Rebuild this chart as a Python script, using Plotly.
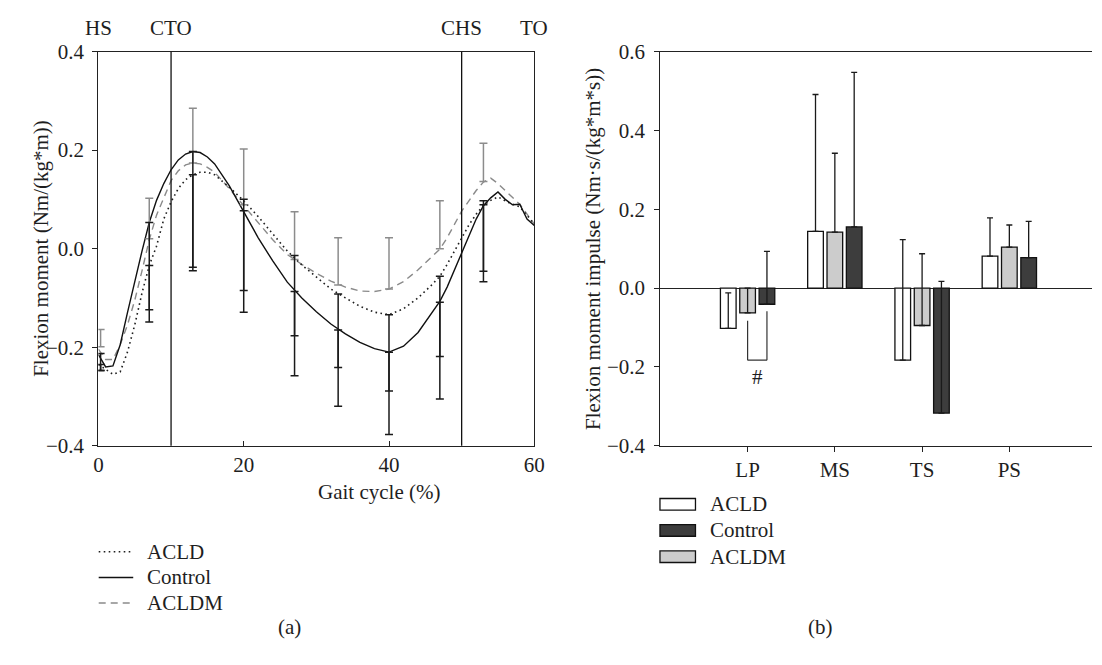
import plotly.graph_objects as go

# ---------------- data: panel (a) ----------------
gait_x = [0, 1, 2, 3, 4, 5, 6, 7, 8, 9, 10, 11, 12, 13, 14, 15, 16, 18, 20, 22, 24, 26, 28,
          30, 32, 34, 36, 38, 40, 42, 44, 46, 47, 48, 49, 50, 51, 52, 53, 54, 55, 56, 57, 58, 59, 60]
acld_curve = [-0.235, -0.245, -0.255, -0.250, -0.210, -0.155, -0.090, -0.034, 0.005, 0.060, 0.095,
              0.122, 0.140, 0.150, 0.155, 0.155, 0.150, 0.125, 0.097, 0.065, 0.030, -0.005, -0.033,
              -0.058, -0.082, -0.100, -0.117, -0.129, -0.134, -0.122, -0.100, -0.072, -0.056, -0.032,
              -0.005, 0.024, 0.048, 0.070, 0.088, 0.098, 0.105, 0.097, 0.090, 0.085, 0.068, 0.050]
control_curve = [-0.215, -0.240, -0.238, -0.195, -0.130, -0.065, -0.005, 0.053, 0.098, 0.132, 0.160,
                 0.180, 0.192, 0.197, 0.195, 0.186, 0.172, 0.128, 0.076, 0.022, -0.025, -0.068, -0.100,
                 -0.128, -0.153, -0.173, -0.190, -0.203, -0.210, -0.198, -0.170, -0.128, -0.107, -0.078,
                 -0.043, -0.009, 0.028, 0.060, 0.087, 0.103, 0.115, 0.100, 0.089, 0.090, 0.060, 0.047]
acldm_curve = [-0.204, -0.225, -0.225, -0.195, -0.155, -0.105, -0.045, 0.018, 0.068, 0.105, 0.138,
               0.158, 0.170, 0.174, 0.172, 0.165, 0.155, 0.122, 0.087, 0.052, 0.018, -0.012, -0.032,
               -0.050, -0.066, -0.078, -0.086, -0.087, -0.082, -0.067, -0.043, -0.015, -0.001, 0.022,
               0.048, 0.076, 0.097, 0.118, 0.135, 0.143, 0.132, 0.118, 0.105, 0.090, 0.070, 0.050]

err_x = [0.3, 7, 13, 20, 27, 33, 40, 47, 53]
acld_err_mean = [-0.235, -0.034, 0.150, 0.100, -0.014, -0.092, -0.134, -0.056, 0.089]
acld_err_sd = [0.012, 0.115, 0.188, 0.185, 0.163, 0.149, 0.155, 0.163, 0.135]
control_err_mean = [-0.213, 0.053, 0.197, 0.077, -0.087, -0.165, -0.210, -0.109, 0.097]
control_err_sd = [0.035, 0.177, 0.242, 0.206, 0.171, 0.155, 0.167, 0.196, 0.164]
acldm_err_mean = [-0.199, 0.020, 0.174, 0.089, -0.022, -0.074, -0.082, 0.000, 0.136]
acldm_err_sd = [0.035, 0.082, 0.111, 0.113, 0.097, 0.096, 0.104, 0.097, 0.078]

event_x = [0, 10, 50, 60]
event_labels = ["HS", "CTO", "CHS", "TO"]
event_lines = [10, 50]

# ---------------- data: panel (b) ----------------
phases = ["LP", "MS", "TS", "PS"]
acld_impulse = [-0.102, 0.144, -0.183, 0.081]
acld_impulse_sd = [0.090, 0.347, 0.306, 0.097]
acldm_impulse = [-0.063, 0.142, -0.095, 0.104]
acldm_impulse_sd = [0.063, 0.200, 0.182, 0.056]
control_impulse = [-0.041, 0.155, -0.317, 0.077]
control_impulse_sd = [0.134, 0.392, 0.334, 0.092]

bracket_phase = "LP"
bracket_left_top = -0.083
bracket_right_top = -0.059
bracket_bottom = -0.183
bracket_label = "#"
bracket_label_y = -0.225

series_names = ["ACLD", "Control", "ACLDM"]

# ---------------- style ----------------
W, H = 1102, 665
FONT = "Liberation Serif, Times New Roman, serif"
FS = 21
INK = "#1e1e1e"
GRAY_LINE = "#8a8a8a"
BAR_FILL = {"ACLD": "#ffffff", "ACLDM": "#cccccc", "Control": "#3d3d3d"}
BARGAP = 0.335
slot = (1 - BARGAP) / 3


def px(xp):
    return xp / W


def py(yp):
    return 1 - yp / H


fig = go.Figure()

# curves
fig.add_trace(go.Scatter(x=gait_x, y=acldm_curve, mode="lines", name="ACLDM",
                         line=dict(color=GRAY_LINE, width=1.4, dash="7px,5px"),
                         xaxis="x", yaxis="y", showlegend=False))
fig.add_trace(go.Scatter(x=gait_x, y=acld_curve, mode="lines", name="ACLD",
                         line=dict(color=INK, width=1.6, dash="1.6px,3.4px"),
                         xaxis="x", yaxis="y", showlegend=False))
fig.add_trace(go.Scatter(x=gait_x, y=control_curve, mode="lines", name="Control",
                         line=dict(color="#111111", width=1.4),
                         xaxis="x", yaxis="y", showlegend=False))

# error bars of panel (a)
zeros = [0] * len(err_x)
fig.add_trace(go.Scatter(x=err_x, y=acldm_err_mean, mode="markers",
                         marker=dict(size=1, color="rgba(0,0,0,0)"),
                         error_y=dict(type="data", symmetric=False, array=acldm_err_sd,
                                      arrayminus=zeros, color="#8c8c8c", thickness=1.5, width=4),
                         xaxis="x", yaxis="y", showlegend=False, hoverinfo="skip"))
fig.add_trace(go.Scatter(x=err_x, y=acld_err_mean, mode="markers",
                         marker=dict(size=1, color="rgba(0,0,0,0)"),
                         error_y=dict(type="data", symmetric=False, array=zeros,
                                      arrayminus=acld_err_sd, color="#1a1a1a", thickness=1.5, width=4),
                         xaxis="x", yaxis="y", showlegend=False, hoverinfo="skip"))
fig.add_trace(go.Scatter(x=err_x, y=control_err_mean, mode="markers",
                         marker=dict(size=1, color="rgba(0,0,0,0)"),
                         error_y=dict(type="data", symmetric=False, array=zeros,
                                      arrayminus=control_err_sd, color="#1a1a1a", thickness=1.5, width=4),
                         xaxis="x", yaxis="y", showlegend=False, hoverinfo="skip"))

# bars of panel (b)
cat_pos = list(range(1, len(phases) + 1))
bar_series = [("ACLD", acld_impulse, acld_impulse_sd),
              ("ACLDM", acldm_impulse, acldm_impulse_sd),
              ("Control", control_impulse, control_impulse_sd)]
for name, vals, sds in bar_series:
    fig.add_trace(go.Bar(x=cat_pos, y=vals, name=name,
                         marker=dict(color=BAR_FILL[name], line=dict(color="#111111", width=1.3)),
                         error_y=dict(type="data", symmetric=False, array=sds,
                                      arrayminus=[0] * len(sds), color="#1a1a1a",
                                      thickness=1.3, width=3),
                         xaxis="x2", yaxis="y2", showlegend=False))

shapes = []
annotations = []

# event lines and labels
for ex in event_lines:
    shapes.append(dict(type="line", xref="x", yref="y domain", x0=ex, x1=ex, y0=0, y1=1,
                       line=dict(color="#111111", width=1.3)))
for ex, lab in zip(event_x, event_labels):
    annotations.append(dict(x=ex, y=py(17), xref="x", yref="paper", text=lab, showarrow=False,
                            xanchor="center", yanchor="middle", font=dict(family=FONT, size=FS, color=INK)))

# significance bracket
bpos = cat_pos[phases.index(bracket_phase)]
bx0 = bpos  # ACLDM bar centre
bx1 = bpos + slot  # Control bar centre
bracket_line = dict(color="#333333", width=1.2)
shapes.append(dict(type="line", xref="x2", yref="y2", x0=bx0, x1=bx0,
                   y0=bracket_left_top, y1=bracket_bottom, line=bracket_line))
shapes.append(dict(type="line", xref="x2", yref="y2", x0=bx1, x1=bx1,
                   y0=bracket_right_top, y1=bracket_bottom, line=bracket_line))
shapes.append(dict(type="line", xref="x2", yref="y2", x0=bx0, x1=bx1,
                   y0=bracket_bottom, y1=bracket_bottom, line=bracket_line))
annotations.append(dict(x=(bx0 + bx1) / 2, y=bracket_label_y, xref="x2", yref="y2", text=bracket_label,
                        showarrow=False, font=dict(family=FONT, size=FS, color=INK)))

# axis titles and panel labels
annotations += [
    dict(x=px(22), y=py(245), xref="paper", yref="paper", text="Flexion moment (Nm/(kg*m))",
         textangle=-90, showarrow=False, font=dict(family=FONT, size=FS, color=INK)),
    dict(x=px(596), y=py(246), xref="paper", yref="paper", text="Flexion moment impulse (Nm·s/(kg*m*s))",
         textangle=-90, showarrow=False, font=dict(family=FONT, size=FS, color=INK)),
    dict(x=px(315), y=py(513), xref="paper", yref="paper", text="Gait cycle (%)",
         showarrow=False, font=dict(family=FONT, size=FS, color=INK)),
    dict(x=px(275), y=py(653), xref="paper", yref="paper", text="(a)",
         showarrow=False, font=dict(family=FONT, size=FS, color=INK)),
    dict(x=px(841), y=py(653), xref="paper", yref="paper", text="(b)",
         showarrow=False, font=dict(family=FONT, size=FS, color=INK)),
]

# manual legend, panel (a)
line_styles = {"ACLD": dict(color=INK, width=1.6, dash="1.6px,3.4px"),
               "Control": dict(color="#111111", width=1.4),
               "ACLDM": dict(color=GRAY_LINE, width=1.4, dash="7px,5px")}
for i, name in enumerate(series_names):
    yy = 560 + i * 26.6
    shapes.append(dict(type="line", xref="paper", yref="paper", x0=px(95), x1=px(130),
                       y0=py(yy), y1=py(yy), line=line_styles[name]))
    annotations.append(dict(x=px(142), y=py(yy), xref="paper", yref="paper", text=name,
                            showarrow=False, xanchor="left", yanchor="middle",
                            font=dict(family=FONT, size=FS, color=INK)))

# manual legend, panel (b)
for i, name in enumerate(series_names):
    yy = 510.7 + i * 27.2
    shapes.append(dict(type="rect", xref="paper", yref="paper", x0=px(664), x1=px(700),
                       y0=py(yy - 6), y1=py(yy + 6), fillcolor=BAR_FILL[name],
                       line=dict(color="#111111", width=1.3)))
    annotations.append(dict(x=px(712.6), y=py(yy), xref="paper", yref="paper", text=name,
                            showarrow=False, xanchor="left", yanchor="middle",
                            font=dict(family=FONT, size=FS, color=INK)))

axis_common = dict(showgrid=False, showline=True, linecolor="#222222", linewidth=1.3,
                   tickcolor="#222222", tickwidth=1.3, ticklen=5,
                   tickfont=dict(family=FONT, size=FS, color=INK))

fig.update_layout(
    width=W, height=H,
    margin=dict(l=0, r=0, t=0, b=0),
    paper_bgcolor="white", plot_bgcolor="white",
    barmode="group", bargap=BARGAP, bargroupgap=0.19,
    showlegend=False,
    xaxis=dict(domain=[px(94.7), px(536.6)], range=[0, 60], tickvals=[0, 20, 40, 60],
               ticks="inside", mirror=True, zeroline=False, anchor="y", **axis_common),
    yaxis=dict(domain=[py(450), py(41)], range=[-0.4, 0.4], tickvals=[-0.4, -0.2, 0, 0.2, 0.4],
               tickformat=".1f", ticks="outside", mirror=True, zeroline=False, anchor="x",
               ticklabelstandoff=4, **axis_common),
    xaxis2=dict(domain=[px(664.4), 1.0], range=[0, (W - 664.4) / 88.45], tickvals=cat_pos,
                ticktext=phases, ticks="outside", mirror=True, zeroline=False, anchor="y2",
                **axis_common),
    yaxis2=dict(domain=[py(450), py(41)], range=[-0.4, 0.6], tickvals=[-0.4, -0.2, 0, 0.2, 0.4, 0.6],
                tickformat=".1f", ticks="outside", mirror=False, zeroline=True,
                zerolinecolor="#222222", zerolinewidth=1.4, anchor="x2",
                ticklabelstandoff=5, **axis_common),
    shapes=shapes,
    annotations=annotations,
    font=dict(family=FONT, size=FS, color=INK),
)

fig.write_html("out.html", config={"displayModeBar": False},
               post_script="document.body.style.margin='0px';")
